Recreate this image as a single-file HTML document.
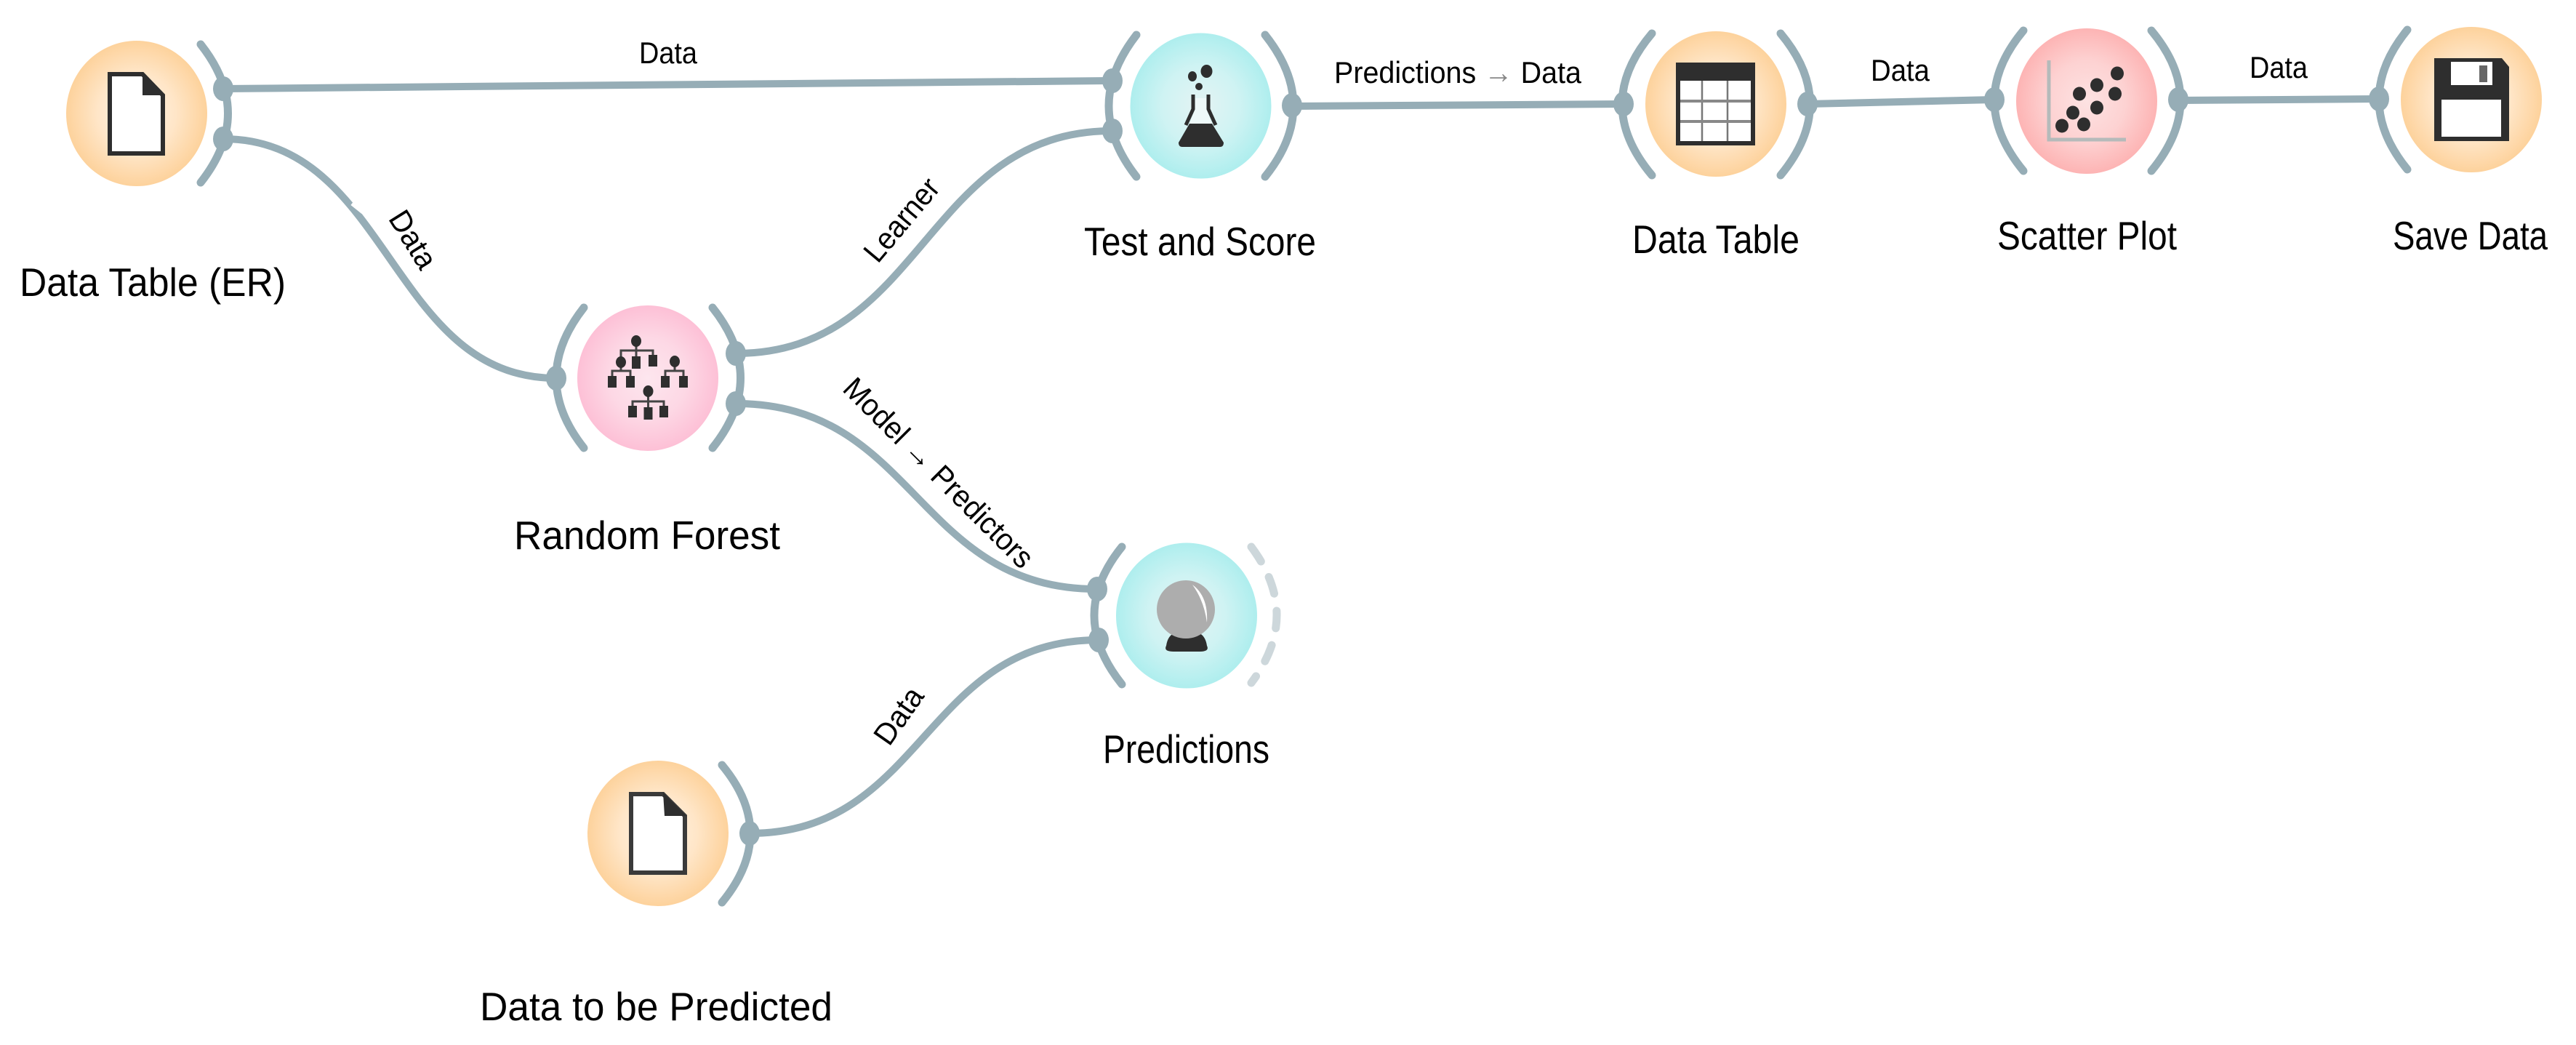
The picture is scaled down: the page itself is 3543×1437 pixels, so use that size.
<!DOCTYPE html>
<html><head><meta charset="utf-8"><style>
html,body{margin:0;padding:0;background:#fff}
svg{display:block}
text{font-family:"Liberation Sans",sans-serif;fill:#000}
.n{font-size:55px}
.l{font-size:42px}
.a{fill:none;stroke:#96adb6;stroke-width:11;stroke-linecap:round}
.c{fill:none;stroke:#96adb6;stroke-width:10}
.p{fill:#96adb6}
.d{fill:#2e2e2e}
</style></head><body>
<svg width="3543" height="1437" viewBox="0 0 3543 1437" xmlns="http://www.w3.org/2000/svg">
<defs>
<radialGradient id="o"><stop offset="0" stop-color="#fff3e6"/><stop offset=".55" stop-color="#ffe6c8"/><stop offset="1" stop-color="#fdd29c"/></radialGradient>
<radialGradient id="k"><stop offset="0" stop-color="#fde6ee"/><stop offset=".55" stop-color="#fdd8e5"/><stop offset="1" stop-color="#fdc0d6"/></radialGradient>
<radialGradient id="b"><stop offset="0" stop-color="#e4f3f3"/><stop offset=".55" stop-color="#cff3f3"/><stop offset="1" stop-color="#aeeeee"/></radialGradient>
<radialGradient id="r"><stop offset="0" stop-color="#fde2e2"/><stop offset=".55" stop-color="#fdd2d2"/><stop offset="1" stop-color="#fdb4b4"/></radialGradient>
</defs>
<rect width="3543" height="1437" fill="#fff"/>

<!-- connectors -->
<path class="c" d="M307,122 L1530,111"/>
<path class="c" d="M307,191 C536,191 536,520 765,520"/>
<path d="M484,280 L499,292" stroke="#fff" stroke-width="5" fill="none"/>
<path class="c" d="M1012,486 C1271,486 1271,180 1530,180"/>
<path class="c" d="M1012,555 C1260,555 1260,810 1509,810"/>
<path class="c" d="M1031,1146 C1271,1146 1271,880 1511,880"/>
<path class="c" d="M1777,146 L2235,143"/>
<path class="c" d="M2486,143 L2743,137"/>
<path class="c" d="M2996,138 L3272,136"/>

<!-- node circles -->
<ellipse cx="188" cy="156" rx="97" ry="100" fill="url(#o)"/>
<ellipse cx="891" cy="520" rx="97" ry="100" fill="url(#k)"/>
<ellipse cx="1651.5" cy="145.5" rx="97" ry="100" fill="url(#b)"/>
<ellipse cx="2360" cy="143" rx="97" ry="100" fill="url(#o)"/>
<ellipse cx="2870" cy="139" rx="97" ry="100" fill="url(#r)"/>
<ellipse cx="3399" cy="137" rx="97" ry="100" fill="url(#o)"/>
<ellipse cx="1632" cy="846.5" rx="97" ry="100" fill="url(#b)"/>
<ellipse cx="905" cy="1146" rx="97" ry="100" fill="url(#o)"/>

<!-- channel arcs -->
<path class="a" d="M276,61 Q351,156 276,251"/>
<path class="a" d="M803,423 Q727,520 803,616"/>
<path class="a" d="M980,423 Q1057,520 980,616"/>
<path class="a" d="M1563,48 Q1487,146 1563,243"/>
<path class="a" d="M1740,48 Q1818,146 1740,243"/>
<path class="a" d="M2272,46 Q2190,143 2272,241"/>
<path class="a" d="M2449,46 Q2530,143 2449,241"/>
<path class="a" d="M2783,42 Q2703,138 2783,235"/>
<path class="a" d="M2959,42 Q3039,138 2959,235"/>
<path class="a" d="M3311,41 Q3233,137 3311,233"/>
<path class="a" d="M1543,752 Q1467,846 1543,941"/>
<path class="a" d="M1721,752 Q1791,846 1721,939" style="stroke:#cdd7db;stroke-dasharray:24 24"/>
<path class="a" d="M993,1052 Q1071,1146 993,1241"/>

<!-- ports -->
<ellipse class="p" cx="307" cy="122" rx="14" ry="17"/>
<ellipse class="p" cx="307" cy="191" rx="14" ry="17"/>
<ellipse class="p" cx="765" cy="520" rx="14" ry="17"/>
<ellipse class="p" cx="1012" cy="486" rx="14" ry="17"/>
<ellipse class="p" cx="1012" cy="555" rx="14" ry="17"/>
<ellipse class="p" cx="1530" cy="111" rx="14" ry="17"/>
<ellipse class="p" cx="1530" cy="180" rx="14" ry="17"/>
<ellipse class="p" cx="1777" cy="145" rx="14" ry="17"/>
<ellipse class="p" cx="2233" cy="143" rx="14" ry="17"/>
<ellipse class="p" cx="2486" cy="143" rx="14" ry="17"/>
<ellipse class="p" cx="2743" cy="137" rx="14" ry="17"/>
<ellipse class="p" cx="2996" cy="137" rx="14" ry="17"/>
<ellipse class="p" cx="3272" cy="136" rx="14" ry="17"/>
<ellipse class="p" cx="1509" cy="810" rx="14" ry="17"/>
<ellipse class="p" cx="1511" cy="880" rx="14" ry="17"/>
<ellipse class="p" cx="1031" cy="1146" rx="14" ry="17"/>

<!-- file icons -->
<path d="M151,102 H196 L224,131 V211 H151 Z" fill="#fff" stroke="#2e2e2e" stroke-width="6"/>
<path d="M196,100 L226,131 H196 Z" class="d"/>
<path d="M868,1092 H912 L942,1122 V1200 H868 Z" fill="#fff" stroke="#3a3a3a" stroke-width="6"/>
<path d="M912,1090 L944,1122 H914 Z" class="d"/>

<!-- random forest icon -->
<g stroke="#444" stroke-width="3" fill="none">
<path d="M875,469 V482 M854,498 V482 H898 V497 M875,482 V500"/>
<path d="M854,498 V510 M842,525 V510 H867 V525"/>
<path d="M928,497 V510 M915,525 V510 H940 V525"/>
<path d="M891.5,538 V552 M870,566 V552 H913 V566 M891.5,552 V566"/>
</g>
<g class="d">
<ellipse cx="875" cy="469" rx="7" ry="8"/><ellipse cx="854" cy="498" rx="7" ry="8"/><ellipse cx="928" cy="497" rx="7" ry="8"/><ellipse cx="891.5" cy="538" rx="7" ry="8"/>
<rect x="869" y="490" width="12" height="17"/><rect x="892" y="488" width="12" height="16"/>
<rect x="836" y="517" width="12" height="16"/><rect x="861" y="517" width="12" height="16"/>
<rect x="909" y="517" width="12" height="16"/><rect x="934" y="517" width="12" height="16"/>
<rect x="864" y="558" width="12" height="16"/><rect x="885.5" y="560" width="12" height="17"/><rect x="907" y="558" width="12" height="16"/>
</g>

<!-- flask -->
<g class="d">
<ellipse cx="1659.5" cy="98" rx="8" ry="9"/><ellipse cx="1640" cy="105" rx="6" ry="7"/><ellipse cx="1649" cy="119" rx="5" ry="5"/>
<path d="M1621,196 L1636,170 H1667 L1683,196 Q1683,202 1678,202 H1626 Q1621,202 1621,196 Z"/>
<path d="M1641,130 V150 L1631,172 M1662,130 V150 L1672,172" fill="none" stroke="#2e2e2e" stroke-width="5"/>
</g>
<path d="M1644,135 V150 L1636,170 H1667 L1659,150 V135 Z" fill="#eef9f9"/>

<!-- table -->
<rect x="2305" y="86" width="109" height="114" class="d"/>
<rect x="2311" y="111" width="97" height="83" fill="#fff"/>
<path d="M2341,111 V194 M2376,111 V194" stroke="#777" stroke-width="2.5"/>
<path d="M2311,139 H2408 M2311,167 H2408" stroke="#888" stroke-width="4"/>

<!-- scatter -->
<path d="M2818,83 V192 H2924" fill="none" stroke="#b5baba" stroke-width="5"/>
<g class="d">
<ellipse cx="2912" cy="101" rx="9" ry="9.5"/><ellipse cx="2884" cy="117" rx="9" ry="9.5"/><ellipse cx="2860" cy="129" rx="9" ry="9.5"/><ellipse cx="2909" cy="129" rx="9" ry="9.5"/><ellipse cx="2884" cy="148" rx="9" ry="9.5"/><ellipse cx="2851" cy="155" rx="9" ry="9.5"/><ellipse cx="2836" cy="173" rx="9" ry="9.5"/><ellipse cx="2866" cy="171" rx="9" ry="9.5"/>
</g>

<!-- floppy -->
<path d="M3348,80 H3441 L3451,92 V194 H3348 Z" class="d"/>
<rect x="3371" y="85" width="57" height="32" fill="#fff"/>
<rect x="3410" y="90" width="11" height="23" fill="#666"/>
<rect x="3358" y="137" width="82" height="51" fill="#fff"/>

<!-- crystal ball -->
<path d="M1604,888 Q1606,874 1616,870 H1648 Q1658,874 1660,888 Q1664,896 1650,896 H1614 Q1600,896 1604,888 Z" class="d"/>
<circle cx="1631" cy="838" r="40" fill="#adadad"/>
<path d="M1640,804 Q1662,820 1660,856 Q1656,826 1640,804 Z" fill="#fff"/>

<!-- link labels -->
<text class="l" x="879" y="87" textLength="80" lengthAdjust="spacingAndGlyphs">Data</text>
<text class="l" x="1835" y="114" textLength="340" lengthAdjust="spacingAndGlyphs">Predictions <tspan style="fill:#888">→</tspan> Data</text>
<text class="l" x="2573" y="111" textLength="81" lengthAdjust="spacingAndGlyphs">Data</text>
<text class="l" x="3094" y="107" textLength="80" lengthAdjust="spacingAndGlyphs">Data</text>
<text class="l" text-anchor="middle" transform="translate(567,330) rotate(58)" y="13" textLength="86" lengthAdjust="spacingAndGlyphs">Data</text>
<text class="l" text-anchor="middle" transform="translate(1241,303) rotate(-50)" y="13" textLength="136" lengthAdjust="spacingAndGlyphs">Learner</text>
<text class="l" text-anchor="middle" transform="translate(1290,651) rotate(45)" y="13" textLength="350" lengthAdjust="spacingAndGlyphs">Model → Predictors</text>
<text class="l" text-anchor="middle" transform="translate(1237,985) rotate(-55)" y="13" textLength="86" lengthAdjust="spacingAndGlyphs">Data</text>

<!-- node labels -->
<text class="n" x="27" y="407" textLength="366" lengthAdjust="spacingAndGlyphs">Data Table (ER)</text>
<text class="n" x="707" y="755" textLength="366" lengthAdjust="spacingAndGlyphs">Random Forest</text>
<text class="n" x="1491" y="351" textLength="319" lengthAdjust="spacingAndGlyphs">Test and Score</text>
<text class="n" x="2245" y="348" textLength="230" lengthAdjust="spacingAndGlyphs">Data Table</text>
<text class="n" x="2747" y="343" textLength="247" lengthAdjust="spacingAndGlyphs">Scatter Plot</text>
<text class="n" x="3291" y="343" textLength="213" lengthAdjust="spacingAndGlyphs">Save Data</text>
<text class="n" x="1517" y="1049" textLength="229" lengthAdjust="spacingAndGlyphs">Predictions</text>
<text class="n" x="660" y="1403" textLength="485" lengthAdjust="spacingAndGlyphs">Data to be Predicted</text>
</svg>
</body></html>
